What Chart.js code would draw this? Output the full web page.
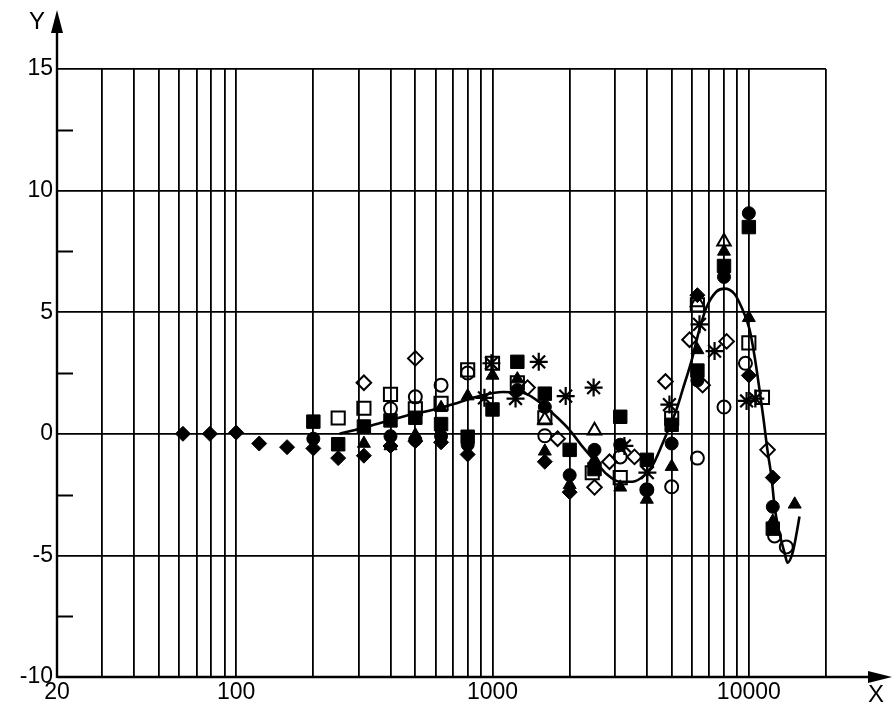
<!DOCTYPE html>
<html>
<head>
<meta charset="utf-8">
<script src="https://cdn.jsdelivr.net/npm/chart.js@4/dist/chart.umd.min.js"></script>
<style>
  html, body { margin: 0; padding: 0; background: #fff; }
  #wrap { width: 896px; height: 715px; }
</style>
</head>
<body>
<div id="wrap"><canvas id="c" width="896" height="715"></canvas></div>
<script>
// ---- axis ticks ----
const xGridValues = [20, 30, 40, 50, 60, 70, 80, 90, 100, 200, 300, 400, 500, 600, 700, 800, 900,
  1000, 2000, 3000, 4000, 5000, 6000, 7000, 8000, 9000, 10000, 20000];
const xLabelValues = [20, 100, 1000, 10000];
const yMinorTicks = [-7.5, -2.5, 2.5, 7.5, 12.5];

// ---- series: filled diamond ----
const fdX = [62, 79, 100, 123, 158, 200, 250, 315, 400, 500, 630, 800, 1600, 2000, 6300, 10000, 12400];
const fdY = [0, 0, 0.05, -0.4, -0.55, -0.6, -1.0, -0.9, -0.5, -0.3, -0.35, -0.85, -1.15, -2.4, 5.7, 2.4, -1.8];
// ---- open diamond ----
const odX = [315, 500, 1370, 1795, 2500, 2860, 3580, 4730, 5870, 6600, 8190, 11830];
const odY = [2.1, 3.1, 1.9, -0.2, -2.2, -1.15, -0.95, 2.15, 3.87, 2.0, 3.8, -0.66];
// ---- filled square ----
const fsX = [200, 250, 315, 400, 500, 630, 800, 1000, 1250, 1600, 2000, 2500, 3150, 4000, 5000, 6300, 8000, 10000, 12400];
const fsY = [0.5, -0.43, 0.3, 0.55, 0.66, 0.4, -0.12, 1.0, 2.96, 1.65, -0.66, -1.45, 0.7, -1.07, 0.37, 2.6, 6.9, 8.5, -3.9];
// ---- open square ----
const osX = [250, 315, 400, 500, 630, 800, 1000, 1250, 1600, 2450, 3150, 5000, 6300, 10000, 11300];
const osY = [0.65, 1.05, 1.62, 1.03, 1.25, 2.63, 2.9, 2.1, 0.66, -1.6, -1.8, 0.64, 5.3, 3.74, 1.5];
// ---- filled circle ----
const fcX = [200, 400, 500, 630, 800, 1250, 1600, 2000, 2500, 3150, 4000, 5000, 6300, 8000, 10000, 12400];
const fcY = [-0.2, -0.1, -0.25, -0.1, -0.45, 1.8, 1.1, -1.7, -0.66, -0.45, -2.3, -0.4, 2.2, 6.45, 9.07, -3.0];
// ---- open circle ----
const ocX = [400, 500, 630, 800, 1600, 3150, 4000, 5000, 6300, 8000, 9700, 12600, 14000];
const ocY = [1.03, 1.52, 2.0, 2.5, -0.08, -0.95, -2.3, -2.18, -1.0, 1.1, 2.9, -4.2, -4.65];
// ---- filled triangle ----
const ftX = [315, 400, 500, 630, 800, 1000, 1250, 1600, 2000, 2500, 3150, 4000, 5000, 6300, 8000, 10000, 12400, 15100];
const ftY = [-0.4, -0.5, -0.05, 1.07, 1.55, 2.4, 2.25, -0.72, -2.1, -1.07, -2.2, -2.7, -1.35, 3.45, 7.5, 4.77, -3.6, -2.9];
// ---- open triangle ----
const otX = [1600, 2500, 6300, 8000];
const otY = [0.58, 0.13, 5.4, 7.9];
// ---- asterisk ----
const asX = [930, 990, 1230, 1515, 1930, 2480, 3270, 4020, 4900, 6420, 7350, 9800, 10600];
const asY = [1.48, 2.9, 1.45, 2.96, 1.55, 1.9, -0.5, -1.6, 1.2, 4.5, 3.4, 1.35, 1.45];
// ---- fitted curve ----
const curveX = [253, 322, 396, 487, 621, 743, 890, 1094, 1309, 1526, 1777, 1997, 2245, 2546, 2785, 3131,
  3518, 3919, 4211, 4606, 4904, 5222, 5512, 5975, 6421, 6839, 7482, 8040, 8795, 9366, 10062, 10525, 11010,
  11413, 11830, 12265, 12600, 13180, 13785, 14160, 14810, 15350, 15760];
const curveY = [0.0, 0.28, 0.55, 0.8, 1.05, 1.3, 1.55, 1.72, 1.69, 1.3, 0.7, 0.16, -0.53, -1.19, -1.65, -1.97,
  -1.97, -1.7, -1.3, -0.4, 0.29, 1.0, 1.8, 3.0, 4.3, 5.2, 5.85, 5.97, 5.75, 5.2, 4.3, 3.2, 1.8,
  0.6, -0.7, -1.8, -3.0, -4.1, -4.9, -5.3, -4.9, -4.1, -3.4];

const pts = (xs, ys) => xs.map((x, i) => ({ x: x, y: ys[i] }));
const FONT = "'Liberation Sans Narrow', 'Arial Narrow', 'Liberation Sans', Arial, sans-serif";

function markerSet(label, xs, ys, style, radius, filled, bw) {
  return {
    type: 'scatter', label: label, data: pts(xs, ys), order: 1,
    pointStyle: style, pointRadius: radius, pointHoverRadius: radius,
    backgroundColor: filled ? '#000' : 'rgba(0,0,0,0)',
    borderColor: '#000', borderWidth: bw
  };
}

const decor = {
  id: 'decor',
  afterDraw(chart) {
    const ctx = chart.ctx;
    const ys = chart.scales.y;
    const a = chart.chartArea;
    ctx.save();
    ctx.strokeStyle = '#000';
    ctx.fillStyle = '#000';
    ctx.lineWidth = 2.4;
    // y axis with arrow
    ctx.beginPath();
    ctx.moveTo(a.left, a.bottom + 1);
    ctx.lineTo(a.left, 30);
    ctx.stroke();
    ctx.beginPath();
    ctx.moveTo(a.left, 10);
    ctx.lineTo(a.left - 6, 33);
    ctx.lineTo(a.left + 6, 33);
    ctx.closePath();
    ctx.fill();
    // x axis with arrow
    ctx.beginPath();
    ctx.moveTo(a.left, a.bottom);
    ctx.lineTo(872, a.bottom);
    ctx.stroke();
    ctx.beginPath();
    ctx.moveTo(892, a.bottom);
    ctx.lineTo(868, a.bottom - 6);
    ctx.lineTo(868, a.bottom + 6);
    ctx.closePath();
    ctx.fill();
    // minor ticks
    ctx.lineWidth = 2;
    yMinorTicks.forEach(v => {
      const py = Math.round(ys.getPixelForValue(v)) + 0.5;
      ctx.beginPath();
      ctx.moveTo(a.left, py);
      ctx.lineTo(a.left + 16, py);
      ctx.stroke();
    });
    // axis titles
    ctx.font = '24px ' + FONT;
    ctx.textAlign = 'center';
    ctx.textBaseline = 'middle';
    ctx.fillText('Y', 37, 22);
    ctx.fillText('X', 876, 695);
    ctx.restore();
  }
};

new Chart(document.getElementById('c'), {
  type: 'scatter',
  data: {
    datasets: [
      {
        type: 'line', label: 'curve', data: pts(curveX, curveY), order: 5,
        borderColor: '#000', borderWidth: 2.6, pointRadius: 0, fill: false,
        cubicInterpolationMode: 'monotone', showLine: true
      },
      markerSet('fd', fdX, fdY, 'rectRot', 7.5, true, 1),
      markerSet('od', odX, odY, 'rectRot', 7.3, false, 2),
      markerSet('fs', fsX, fsY, 'rect', 9.5, true, 1),
      markerSet('os', osX, osY, 'rect', 9.3, false, 2),
      markerSet('fc', fcX, fcY, 'circle', 6.5, true, 1),
      markerSet('oc', ocX, ocY, 'circle', 6.5, false, 2),
      markerSet('ft', ftX, ftY, 'triangle', 7.5, true, 1),
      markerSet('ot', otX, otY, 'triangle', 7.8, false, 2),
      markerSet('as', asX, asY, 'star', 9, false, 2.2)
    ]
  },
  options: {
    responsive: false,
    animation: false,
    events: [],
    layout: { padding: { top: 69, right: 70, left: 0, bottom: 0 } },
    plugins: { legend: { display: false }, tooltip: { enabled: false } },
    scales: {
      x: {
        type: 'logarithmic', min: 20, max: 20000,
        afterBuildTicks: (s) => { s.ticks = xGridValues.map(v => ({ value: v })); },
        afterFit: (s) => { s.height = 38; },
        grid: { color: '#000', lineWidth: 1.8, drawTicks: false },
        border: { display: false },
        ticks: {
          autoSkip: false, maxRotation: 0, padding: 2, color: '#000',
          font: { family: FONT, size: 23 },
          callback: (v) => xLabelValues.includes(v) ? String(v) : ''
        }
      },
      y: {
        type: 'linear', min: -10, max: 15,
        afterFit: (s) => { s.width = 57; },
        grid: { color: '#000', lineWidth: 1.8, drawTicks: false },
        border: { display: false },
        ticks: {
          stepSize: 5, padding: 4, color: '#000',
          font: { family: FONT, size: 23 }
        }
      }
    }
  },
  plugins: [decor]
});
</script>
</body>
</html>
